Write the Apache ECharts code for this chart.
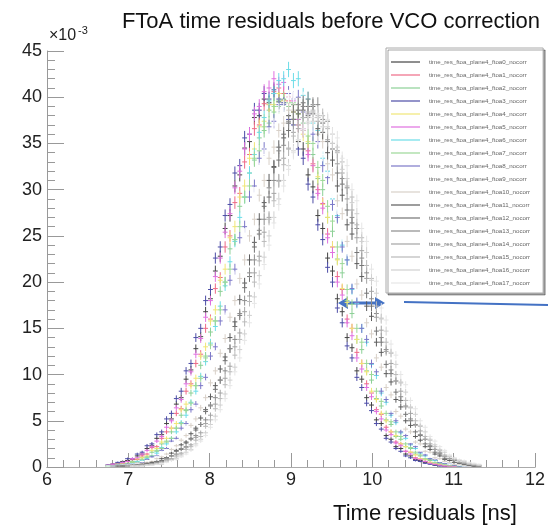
<!DOCTYPE html>
<html>
<head>
<meta charset="utf-8">
<title>FToA time residuals before VCO correction</title>
<script src="https://cdn.jsdelivr.net/npm/echarts@6/dist/echarts.min.js"></script>
<style>
  html, body { margin: 0; padding: 0; background: #fff; }
  #chart { width: 548px; height: 527px; }
</style>
</head>
<body>
<div id="chart"></div>
<script>
  // histogram binning (ns): centre of first stored bin and bin width
  const binStart = 6.75
  const binWidth = 0.06
  // axis ranges / ticks
  const xMin = 6, xMax = 12, xStep = 1
  const yMin = 0, yMax = 0.045, yStep = 0.005
  // bin contents, in units of 1e-4 (normalised histograms)
  const ftoa0 = [2,3,4,6,7,8,12,14,20,23,31,35,47,52,68,75,95,105,128,141,168,182,212,228,258,272,304,316,345,352,378,380,398,394,404,395,397,380,376,352,344,316,303,272,258,226,212,182,168,140,129,104,95,75,67,51,47,34,30,22,20,14,12,8,7,5,4,2,2,1,1,1,0,0,0,0,0]
  const ftoa1 = [1,3,3,4,6,8,8,12,14,21,22,31,38,42,58,63,82,90,112,122,150,160,193,205,238,250,286,296,330,338,366,370,393,392,406,410,404,396,392,370,364,342,328,300,285,252,238,206,192,160,150,124,112,90,80,62,57,43,38,27,25,17,16,10,9,6,5,3,3,1,2,1,0,1,0,0,0]
  const ftoa2 = [1,1,3,3,4,6,6,10,10,16,17,25,27,38,42,56,61,80,88,110,120,146,158,190,200,236,246,282,292,318,332,356,364,386,384,396,392,390,392,376,372,350,338,312,300,270,255,225,210,180,166,138,127,104,94,74,66,51,46,33,30,22,20,14,12,8,7,4,4,2,2,1,1,1,0,0,0]
  const ftoa3 = [2,3,5,5,9,9,14,16,23,25,35,38,52,58,74,82,104,112,140,150,180,192,226,238,272,284,318,326,356,360,386,386,404,398,408,398,394,376,370,344,334,306,292,262,246,216,200,172,156,131,118,97,86,69,61,47,41,31,27,20,17,12,10,7,6,4,3,2,1,1,1,0,0,0,0,0,0]
  const ftoa4 = [1,2,3,3,4,5,9,10,12,18,20,27,31,42,47,62,68,88,96,120,130,158,170,202,214,248,260,292,304,334,344,368,374,392,392,404,396,400,384,382,360,352,326,314,284,270,238,224,193,178,150,138,112,103,82,73,58,50,38,34,25,22,16,13,9,8,5,4,3,2,1,1,1,0,0,0,0]
  const ftoa5 = [2,3,3,5,6,9,10,14,18,22,28,33,43,50,64,73,90,103,122,139,162,180,206,226,254,274,302,320,344,360,382,390,406,410,420,414,416,400,396,376,366,338,326,296,280,248,232,200,186,156,142,118,106,86,76,60,52,40,35,26,23,17,14,9,8,6,4,3,2,1,1,1,0,0,0,0,0]
  const ftoa6 = [1,1,2,2,3,4,6,7,9,12,15,21,25,31,38,48,56,70,82,98,114,134,152,174,196,222,244,270,292,318,338,362,378,396,404,418,420,430,418,420,402,398,372,364,334,320,290,272,240,224,192,177,150,135,111,99,80,70,56,48,37,31,24,20,15,12,9,7,5,4,3,2,1,1,1,0,0]
  const ftoa7 = [1,1,2,2,3,5,5,8,11,12,18,20,28,31,42,47,62,69,88,96,118,132,158,170,200,214,246,260,292,304,334,342,368,372,390,390,398,394,394,382,378,358,350,324,310,282,266,238,220,192,176,150,135,112,100,82,71,58,49,38,33,25,21,16,13,9,8,5,4,3,2,2,1,1,0,0,0]
  const ftoa8 = [0,1,1,2,3,3,4,5,8,11,12,18,20,28,31,42,47,62,68,88,97,120,130,158,170,202,214,248,260,292,304,334,344,368,374,392,392,404,398,400,384,382,360,352,326,313,284,270,238,224,193,178,150,138,112,103,82,73,58,50,38,34,25,22,16,13,9,8,5,4,3,2,1,1,1,0,0]
  const ftoa9 = [1,0,1,2,2,3,4,6,7,9,11,16,18,25,28,37,44,55,64,79,90,110,122,146,162,188,206,234,252,280,296,322,338,360,370,386,390,400,398,392,398,384,370,356,338,322,296,280,250,234,204,190,160,148,122,110,90,80,62,56,43,38,28,25,18,16,11,9,6,5,3,3,2,1,1,1,0]
  const ftoa10 = [0,1,1,1,2,2,3,4,5,6,9,11,14,19,23,29,34,45,52,64,75,91,104,123,139,162,180,204,224,250,268,294,310,334,346,364,372,386,386,392,390,382,378,360,352,328,316,288,274,244,228,198,186,156,144,118,108,86,78,60,55,41,38,27,25,17,16,10,9,6,5,3,3,2,1,1,1]
  const ftoa11 = [0,0,1,1,1,2,2,3,4,5,6,9,10,15,18,24,27,36,42,53,62,76,88,106,119,140,157,181,199,224,243,268,286,310,325,346,356,372,376,386,386,380,382,366,362,340,332,304,294,262,252,220,206,174,163,135,124,101,92,73,65,50,45,33,29,22,19,14,12,8,7,5,4,3,2,1,1]
  const ftoa12 = [0,0,0,1,1,1,2,2,3,4,6,7,10,12,17,19,26,31,40,46,60,67,84,94,115,128,152,164,194,206,238,252,282,292,324,332,360,364,384,382,394,390,390,378,372,352,344,318,306,278,264,232,218,188,174,147,135,111,101,81,72,57,50,38,34,25,22,16,14,9,9,5,5,3,2,1,1]
  const ftoa13 = [0,0,0,1,1,1,2,2,3,3,5,6,9,12,14,20,22,30,34,46,51,66,75,94,104,128,138,166,180,210,224,256,268,302,310,342,348,374,376,392,390,398,392,392,376,374,350,342,312,302,270,258,226,210,182,166,140,127,105,93,76,66,52,46,35,30,23,19,15,11,9,7,5,4,3,2,2]
  const ftoa14 = [0,0,0,0,1,1,1,2,2,3,4,5,8,9,13,15,21,24,32,37,47,56,68,80,96,109,130,145,168,185,210,228,254,270,296,310,334,344,362,366,378,378,384,374,372,354,350,328,318,290,278,248,234,204,190,162,148,125,112,93,82,65,58,45,39,30,25,19,16,12,9,8,5,4,3,2,1]
  const ftoa15 = [0,0,0,0,1,1,1,2,2,3,3,5,7,8,11,14,19,22,29,33,44,51,63,74,89,103,121,138,157,179,200,223,244,268,288,309,327,345,358,370,378,384,386,380,380,366,360,340,330,304,292,262,248,218,204,174,161,135,123,100,91,72,64,50,44,33,29,22,18,13,11,8,7,5,3,3,2]
  const ftoa16 = [0,0,0,0,0,1,1,1,2,2,3,3,6,7,9,12,16,19,25,30,37,46,55,67,79,94,108,127,144,164,184,207,227,250,270,290,310,326,342,354,364,372,374,378,368,368,350,346,322,312,286,274,244,232,202,188,160,147,124,111,92,81,65,57,45,38,30,24,19,16,12,9,7,6,4,3,2]
  const ftoa17 = [0,0,0,0,0,1,1,1,2,2,3,4,5,7,8,11,14,18,23,28,34,43,51,62,74,88,103,118,137,156,177,198,219,240,264,284,304,322,340,354,366,374,378,382,374,376,360,356,334,326,300,288,258,244,214,201,172,159,133,121,100,89,72,63,50,43,33,28,22,18,13,10,8,7,5,4,3]

  const histograms = [ftoa0, ftoa1, ftoa2, ftoa3, ftoa4, ftoa5, ftoa6, ftoa7, ftoa8, ftoa9,
    ftoa10, ftoa11, ftoa12, ftoa13, ftoa14, ftoa15, ftoa16, ftoa17]
  const lineColors = ['#444444', '#ee6a86', '#8cd096', '#4c4ca6', '#f0e676', '#e070e0', '#6cdde8', '#9cd898', '#7c78c8', '#ffffff',
    '#d8d0c8', '#5c5c5c', '#747474', '#8c8c8c', '#a4a4a4', '#bababa', '#d0d0d0', '#e6e6e6']
  const histNames = histograms.map((h, i) => 'time_res_ftoa_plane4_ftoa' + i + '_nocorr')

  const unit = 1e-4      // stored bin contents -> normalised value
  const errScale = 0.4   // statistical error bar ~ sqrt(content)

  const font = 'Liberation Sans, Arial, Helvetica, sans-serif'

  // one cross per bin: horizontal = bin width, vertical = error bar
  function renderCross(params, api) {
    let x = api.value(0)
    let y = api.value(1)
    let e = api.value(2)
    let l = api.coord([x - binWidth / 2, y])
    let r = api.coord([x + binWidth / 2, y])
    let t = api.coord([x, y + e])
    let b = api.coord([x, y - e])
    let color = api.visual('color')
    return {
      type: 'group',
      children: [
        { type: 'line', shape: { x1: l[0], y1: l[1], x2: r[0], y2: r[1] }, style: { stroke: color, lineWidth: 1 } },
        { type: 'line', shape: { x1: t[0], y1: t[1], x2: b[0], y2: b[1] }, style: { stroke: color, lineWidth: 1 } }
      ]
    }
  }

  let series = histograms.map((h, i) => {
    let data = []
    h.forEach((v, k) => {
      if (v <= 0) return
      data.push([binStart + k * binWidth, v * unit, errScale * Math.sqrt(v) * unit])
    })
    return {
      name: histNames[i],
      type: 'custom',
      renderItem: renderCross,
      itemStyle: { color: lineColors[i] },
      encode: { x: 0, y: 1 },
      silent: true,
      data: data
    }
  })

  let chart = echarts.init(document.getElementById('chart'))
  chart.setOption({
    animation: false,
    backgroundColor: '#fff',
    textStyle: { fontFamily: font },
    grid: { left: 47, right: 7, top: 51, bottom: 60 },
    xAxis: [{
      type: 'value', min: xMin, max: xMax, interval: xStep,
      axisLine: { onZero: false, lineStyle: { color: '#999', width: 1 } },
      axisTick: { inside: true, length: 14, lineStyle: { color: '#999' } },
      minorTick: { show: true, splitNumber: 5, length: 7, lineStyle: { color: '#999' } },
      splitLine: { show: false },
      axisLabel: { fontSize: 18, color: '#222', margin: 4, fontFamily: font }
    }, {
      // top frame edge
      type: 'value', position: 'top', min: xMin, max: xMax,
      axisLine: { lineStyle: { color: '#aaa', width: 1 } },
      axisTick: { show: false }, axisLabel: { show: false }, splitLine: { show: false }
    }],
    yAxis: {
      type: 'value', min: yMin, max: yMax, interval: yStep,
      axisLine: { show: true, lineStyle: { color: '#999', width: 1 } },
      axisTick: { inside: true, length: 17, lineStyle: { color: '#999' } },
      minorTick: { show: true, splitNumber: 5, length: 8, lineStyle: { color: '#999' } },
      splitLine: { show: false },
      axisLabel: { fontSize: 18, color: '#222', margin: 5, fontFamily: font,
        formatter: v => String(Math.round(v * 1000)) }
    },
    legend: {
      orient: 'vertical', left: 386, top: 48,
      padding: [10, 13, 6, 5],
      itemWidth: 29, itemHeight: 1.2, itemGap: 5,
      icon: 'rect', selectedMode: false,
      backgroundColor: '#fff', borderColor: '#aaa', borderWidth: 1,
      shadowColor: 'rgba(0,0,0,0.35)', shadowOffsetX: 2, shadowOffsetY: 2, shadowBlur: 0,
      textStyle: { fontSize: 6.2, lineHeight: 8, color: '#666', fontFamily: font, padding: [0, 0, 0, 4] },
      data: histNames
    },
    graphic: [
      { type: 'text', x: 331, y: 22, style: { text: 'FToA time residuals before VCO correction', font: '22px ' + font, fill: '#111', textAlign: 'center', textVerticalAlign: 'middle' } },
      { type: 'text', x: 49, y: 36, style: { text: '×10', font: '16px ' + font, fill: '#222', textAlign: 'left', textVerticalAlign: 'middle' } },
      { type: 'text', x: 78, y: 31, style: { text: '-3', font: '11px ' + font, fill: '#222', textAlign: 'left', textVerticalAlign: 'middle' } },
      { type: 'text', x: 425, y: 514, style: { text: 'Time residuals [ns]', font: '22px ' + font, fill: '#111', textAlign: 'center', textVerticalAlign: 'middle' } },
      // blue double arrow + pointer line
      { type: 'line', shape: { x1: 346, y1: 303, x2: 376, y2: 303 }, style: { stroke: '#4472c4', lineWidth: 3 } },
      { type: 'polygon', shape: { points: [[338, 303], [348, 297], [348, 309]] }, style: { fill: '#4472c4' } },
      { type: 'polygon', shape: { points: [[385, 303], [375, 297], [375, 309]] }, style: { fill: '#4472c4' } },
      { type: 'line', shape: { x1: 404, y1: 302, x2: 548, y2: 305 }, style: { stroke: '#4472c4', lineWidth: 2 } }
    ],
    series: series
  })
</script>
</body>
</html>
